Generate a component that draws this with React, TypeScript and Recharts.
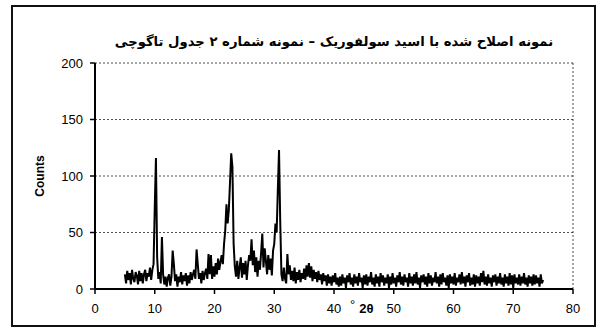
import { LineChart, Line, XAxis, YAxis, CartesianGrid, ReferenceLine } from 'recharts'

// scan grid: 5.0° → 75.0°, 0.2° step
const startAngle = 5
const stepAngle = 0.2

// counts 5.0 – 40.8
const countsLow = [
  13, 5, 16, 8, 14, 4, 17, 9, 6, 15,
  12, 4, 16, 7, 14, 5, 13, 17, 7, 14,
  11, 19, 8, 17, 22, 72, 116, 28, 9, 15,
  5, 46, 13, 4, 11, 2, 10, 13, 3, 11,
  34, 22, 7, 13, 2, 11, 6, 15, 4, 12,
  7, 14, 3, 12, 5, 15, 8, 13, 17, 9,
  35, 22, 9, 14, 5, 16, 8, 14, 18, 9,
  31, 13, 30, 9, 20, 11, 23, 13, 27, 17,
  24, 30, 22, 40, 52, 75, 58, 70, 95, 120,
  108, 40, 20, 11, 25, 9, 19, 28, 10, 23,
  13, 25, 8, 21, 30, 25, 44, 21, 34, 15,
  28, 11, 25, 17, 32, 49, 19, 36, 25, 13,
  30, 17, 27, 12, 34, 40, 58, 50, 88, 123,
  60, 13, 7, 19, 9, 5, 31, 13, 21, 8,
  16, 7, 19, 5, 15, 8, 17, 6, 14, 9,
  18, 8, 21, 11, 23, 10, 20, 7, 17, 9,
  15, 6, 16, 8, 13, 4, 14, 7, 12, 3,
  13, 5, 11, 3, 12, 6, 14, 4, 10, 2,
]

// counts 41.0 – 75.0
const countsHigh = [
  11, 3, 13, 5, 10, 1, 12, 6, 14, 4,
  10, 2, 13, 5, 11, 3, 14, 6, 10, 1,
  12, 4, 13, 3, 11, 6, 15, 4, 10, 2,
  13, 5, 11, 2, 14, 6, 12, 3, 10, 5,
  13, 1, 11, 4, 14, 5, 10, 2, 12, 6,
  15, 4, 11, 3, 13, 6, 10, 2, 14, 5,
  11, 3, 13, 5, 15, 4, 10, 1, 12, 6,
  13, 4, 11, 2, 14, 5, 12, 3, 10, 6,
  15, 5, 11, 2, 13, 4, 14, 6, 10, 3,
  12, 1, 13, 5, 11, 4, 14, 3, 10, 6,
  13, 4, 15, 5, 11, 2, 12, 6, 14, 3,
  10, 4, 13, 2, 12, 5, 11, 3, 14, 6,
  16, 4, 11, 3, 13, 5, 10, 2, 12, 6,
  13, 3, 11, 5, 14, 4, 10, 2, 13, 5,
  11, 3, 14, 4, 12, 1, 13, 5, 10, 4,
  13, 3, 11, 5, 14, 4, 10, 2, 12, 5,
  11, 3, 13, 4, 12, 5, 10, 2, 13, 5,
  8,
]

const xTicks = [0, 10, 20, 30, 40, 50, 60, 70, 80]
const yTicks = [0, 50, 100, 150, 200]

const title = 'نمونه اصلاح شده با اسید سولفوریک – نمونه شماره ۲ جدول تاگوچی'

const data = [...countsLow, ...countsHigh].map((c, i) => ({
  x: Math.round((startAngle + i * stepAngle) * 10) / 10,
  y: c,
}))

const tickFont = { fontSize: 13, fill: '#000', fontFamily: 'Liberation Sans, Arial, sans-serif' }

export default function App() {
  return (
    <div style={{ position: 'absolute', left: 0, top: 0, width: 601, height: 331, background: '#fff', overflow: 'hidden' }}>
      {/* outer frame */}
      <div style={{ position: 'absolute', left: 11, top: 5, width: 581, height: 318, border: '2px solid #111' }} />

      <LineChart width={601} height={331} data={data} margin={{ top: 63, right: 28, bottom: 12, left: 35 }}>
        <CartesianGrid vertical={false} stroke="#222" strokeDasharray="2 2" strokeWidth={0.8} />
        <XAxis
          dataKey="x"
          type="number"
          domain={[0, 80]}
          ticks={xTicks}
          height={30}
          tick={tickFont}
          tickSize={5}
          tickMargin={10}
          axisLine={{ stroke: '#000', strokeWidth: 2 }}
          tickLine={{ stroke: '#000', strokeWidth: 1.5 }}
        />
        <YAxis
          type="number"
          domain={[0, 200]}
          ticks={yTicks}
          width={60}
          tick={tickFont}
          tickSize={5}
          tickMargin={7}
          axisLine={{ stroke: '#000', strokeWidth: 2 }}
          tickLine={{ stroke: '#000', strokeWidth: 1.5 }}
        />
        <ReferenceLine x={80} stroke="#222" strokeDasharray="2 2" strokeWidth={0.8} />
        <Line dataKey="y" type="linear" stroke="#000" strokeWidth={2} dot={false} isAnimationActive={false} />
      </LineChart>

      {/* title */}
      <div
        dir="rtl"
        style={{
          position: 'absolute', left: 0, width: 668, top: 34, textAlign: 'center',
          font: 'bold 13.2px "DejaVu Sans", sans-serif', color: '#000', whiteSpace: 'nowrap',
        }}
      >
        {title}
      </div>

      {/* y axis label */}
      <div
        style={{
          position: 'absolute', left: 40, top: 176, transform: 'translate(-50%, -50%) rotate(-90deg)',
          font: 'bold 12px "Liberation Sans", Arial, sans-serif', color: '#000',
        }}
      >
        Counts
      </div>

      {/* x axis label */}
      <div style={{ position: 'absolute', left: 350, top: 301, font: '13px "Liberation Sans", Arial, sans-serif', color: '#000' }}>
        <span style={{ position: 'relative', top: -4 }}>°</span>
        <span style={{ fontWeight: 'bold', marginLeft: 4 }}>2θ</span>
      </div>
    </div>
  )
}
